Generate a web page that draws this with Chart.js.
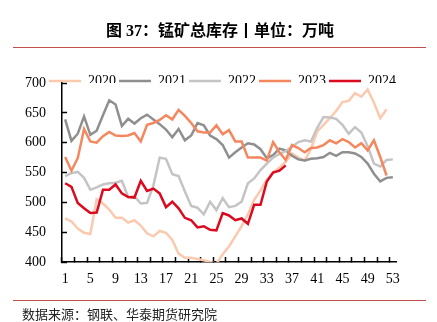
<!DOCTYPE html>
<html>
<head>
<meta charset="utf-8">
<script src="https://cdn.jsdelivr.net/npm/chart.js@4.4.1/dist/chart.umd.min.js"></script>
<style>
  html, body { margin: 0; padding: 0; background: #fff; }
  #box { position: relative; width: 437px; height: 322px; overflow: hidden; }
  #title { position: absolute; left: 0; top: 17px; width: 440px; line-height: 20px; text-align: center;
           font: bold 16px "Liberation Serif", "Noto Sans CJK SC"; color: #000; }
  .rule { position: absolute; left: 13px; width: 413px; height: 1px; background: #c0504d; }
  #source { position: absolute; left: 22px; top: 304px; line-height: 16px; font: 13px "Noto Sans CJK SC"; color: #222; }
  canvas { position: absolute; left: 0; top: 0; }
</style>
</head>
<body>
<div id="box">
  <canvas id="chart" width="437" height="322"></canvas>
  <div id="title">图 37：锰矿总库存丨单位：万吨</div>
  <div class="rule" style="top:47px"></div>
  <div class="rule" style="top:300px"></div>
  <div id="source">数据来源：钢联、华泰期货研究院</div>
</div>
<script>
// 周次
var weeks = [1, 2, 3, 4, 5, 6, 7, 8, 9, 10, 11, 12, 13, 14, 15, 16, 17, 18, 19, 20,
    21, 22, 23, 24, 25, 26, 27, 28, 29, 30, 31, 32, 33, 34, 35, 36, 37, 38, 39, 40,
    41, 42, 43, 44, 45, 46, 47, 48, 49, 50, 51, 52, 53];

var y2020 = [473, 468, 456, 449, 447, 505, 498, 488, 474, 474,
    466, 470, 461, 448, 443, 452, 449, 437, 414, 407,
    407, 405, 403, 400, 397, 413, 426, 443, 460, 480,
    504, 520, 538, 550, 558, 568, 582, 575, 570, 589,
    619, 630, 641, 653, 668, 670, 683, 677, 689, 667,
    641, 656];
var y2021 = [639, 603, 615, 644, 613, 620, 646, 671, 664, 628,
    640, 632, 641, 647, 639, 631, 622, 609, 623, 604,
    612, 633, 629, 612, 606, 596, 575, 584, 592, 599,
    597, 589, 574, 579, 590, 587, 578, 572, 570, 573,
    574, 576, 583, 578, 584, 584, 582, 576, 565, 548,
    535, 541, 542];
var y2022 = [544, 549, 551, 541, 521, 525, 530, 532, 533, 536,
    509, 510, 498, 499, 528, 575, 573, 547, 544, 518,
    494, 491, 480, 501, 487, 507, 492, 494, 501, 532,
    540, 554, 565, 575, 581, 586, 593, 601, 604, 602,
    625, 643, 642, 640, 630, 615, 626, 617, 594, 565,
    560, 571, 572];
var y2023 = [576, 553, 574, 623, 602, 600, 611, 618, 612, 611,
    612, 616, 602, 630, 633, 638, 646, 639, 655, 645,
    633, 619, 617, 617, 629, 614, 621, 602, 602, 575,
    575, 575, 570, 601, 584, 571, 596, 591, 584, 591,
    592, 596, 604, 599, 606, 601, 592, 599, 587, 604,
    576, 545];
var y2024 = [532, 526, 499, 490, 482, 483, 521, 521, 530, 515,
    509, 508, 536, 519, 523, 515, 492, 501, 490, 474,
    470, 458, 460, 454, 453, 482, 478, 470, 473, 464,
    496, 496, 535, 550, 553, 562];

var yearNames = ['2020', '2021', '2022', '2023', '2024'];
var yearColors = ['#fbc9ae', '#8f8f8f', '#c4c4c4', '#f5875f', '#dc0a1e'];
var yearData = [y2020, y2021, y2022, y2023, y2024];

var FONT = { family: 'Liberation Serif', size: 14 };

function makeSets() {
    var sets = [];
    for (var i = 0; i < yearNames.length; i++) {
        sets.push({
            label: yearNames[i],
            data: yearData[i],
            borderColor: yearColors[i],
            backgroundColor: yearColors[i],
            borderWidth: 2.5,
            pointRadius: 0,
            tension: 0,
            order: yearNames.length - i   // 2024 画在最上面
        });
    }
    return sets;
}

// 图例放在坐标区顶部
var legendShift = {
    id: 'legendShift',
    afterLayout: function (chart) {
        var lg = chart.legend;
        lg.top = 71;
        lg.left += 13.5;
        lg.right += 13.5;
    }
};

var ctx = document.getElementById('chart').getContext('2d');
new Chart(ctx, {
    type: 'line',
    data: { labels: weeks, datasets: makeSets() },
    options: {
        responsive: false,
        animation: false,
        layout: { padding: { left: 22, right: 41, top: 82, bottom: 30 } },
        plugins: {
            tooltip: { enabled: false },
            legend: {
                position: 'top',
                maxHeight: 1,
                labels: {
                    usePointStyle: true,
                    pointStyle: 'line',
                    pointStyleWidth: 32,
                    padding: 3,
                    color: '#000',
                    font: FONT,
                    sort: function (a, b) { return a.datasetIndex - b.datasetIndex; }
                }
            }
        },
        scales: {
            x: {
                offset: true,
                ticks: {
                    autoSkip: false, maxRotation: 0, padding: 14, color: '#000', font: FONT,
                    callback: function (v, i) { return i % 4 === 0 ? String(weeks[i]) : ''; }
                },
                grid: {
                    offset: true, drawOnChartArea: false, tickLength: -5, tickWidth: 1.5,
                    tickColor: function (c) { return c.index % 2 === 0 ? '#000' : 'rgba(0,0,0,0)'; }
                },
                border: { color: '#000', width: 1.5 },
                afterFit: function (scale) { scale.height = 30; }
            },
            y: {
                min: 400, max: 700,
                ticks: { stepSize: 50, padding: 21, color: '#000', font: FONT },
                grid: { drawOnChartArea: false, tickLength: -5, tickWidth: 1.5, tickColor: '#000' },
                border: { color: '#000', width: 1.5 },
                afterFit: function (scale) { scale.width = 40; }
            }
        }
    },
    plugins: [legendShift]
});
</script>
</body>
</html>
